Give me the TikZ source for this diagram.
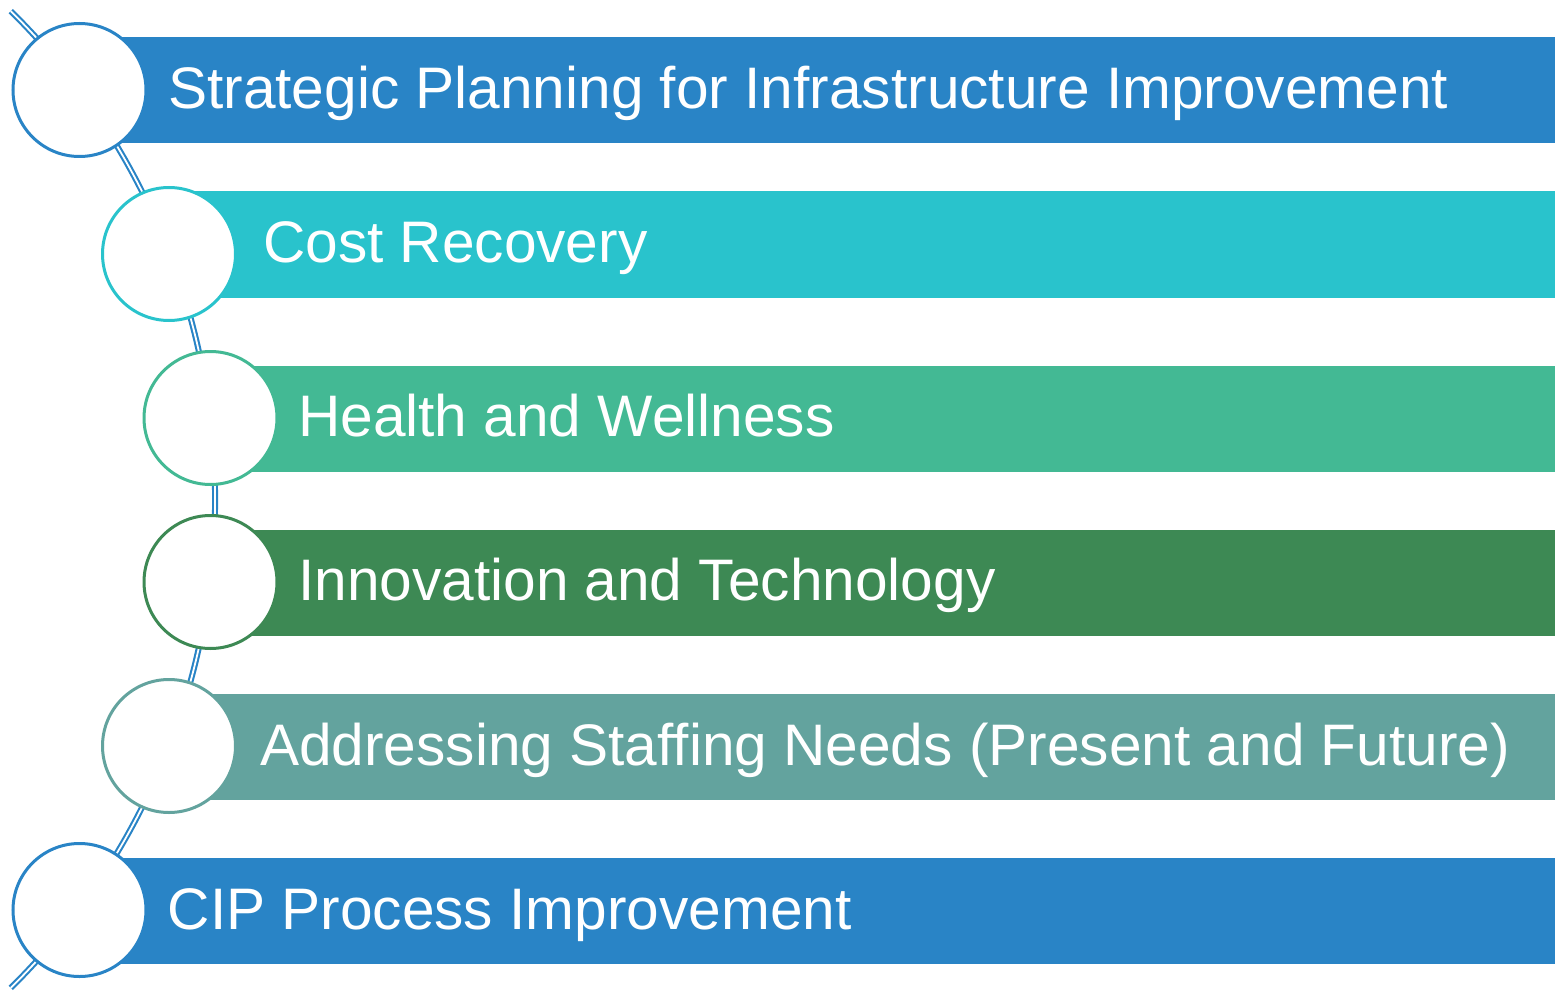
\documentclass[tikz,border=0pt]{standalone}
\usepackage{fontspec}
\setmainfont{Liberation Sans}
\definecolor{cA}{RGB}{41,132,198}
\definecolor{cB}{RGB}{41,195,204}
\definecolor{cC}{RGB}{67,185,148}
\definecolor{cD}{RGB}{61,137,84}
\definecolor{cE}{RGB}{99,163,158}
\tikzset{
  bar/.style={rectangle, inner sep=0pt, outer sep=0pt, minimum height=106pt, anchor=east, draw=none},
  circ/.style={circle, inner sep=0pt, minimum size=133pt, line width=3pt, fill=white},
  lbl/.style={anchor=base west, inner sep=0pt, text=white, font=\fontsize{58.6pt}{60pt}\selectfont},
  spine/.style={draw=cA, line width=2.1pt, double=white, double distance=1.8pt}
}
\begin{document}
\begin{tikzpicture}[x=1pt,y=-1pt]
\useasboundingbox (0,0) rectangle (1555,995);
% spine arc through the circle centres
\coordinate (arcstart) at ({-470.9+686*cos(45.4)},{499.5-686*sin(45.4)});
\draw[spine] (arcstart) arc[start angle=-45.4, end angle=45.4, radius=686];
% bars
\node[bar, fill=cA, minimum width=1475.5pt] (b1) at (1555,90.3) {};
\node[bar, fill=cB, minimum width=1386pt] (b2) at (1555,244.5) {};
\node[bar, fill=cC, minimum width=1344.5pt] (b3) at (1555,418.8) {};
\node[bar, fill=cD, minimum width=1344.5pt] (b4) at (1555,582.5) {};
\node[bar, fill=cE, minimum width=1386pt] (b5) at (1555,747.2) {};
\node[bar, fill=cA, minimum width=1475.5pt] (b6) at (1555,911.3) {};
% circles
\node[circ, draw=cA] (c1) at (79.5,90) {};
\node[circ, draw=cB] (c2) at (169,254) {};
\node[circ, draw=cC] (c3) at (210.5,418) {};
\node[circ, draw=cD] (c4) at (210.5,582) {};
\node[circ, draw=cE] (c5) at (169,746) {};
\node[circ, draw=cA] (c6) at (79.5,910) {};
% labels
\node[lbl] (t1) at (168,108.3) {Strategic Planning for Infrastructure Improvement};
\node[lbl] (t2) at (263,262.5) {Cost Recovery};
\node[lbl] (t3) at (298,436.8) {Health and Wellness};
\node[lbl] (t4) at (298,600.5) {Innovation and Technology};
\node[lbl] (t5) at (260,765) {Addressing Staffing Needs (Present and Future)};
\node[lbl] (t6) at (167.5,929.3) {CIP Process Improvement};
\end{tikzpicture}
\end{document}
